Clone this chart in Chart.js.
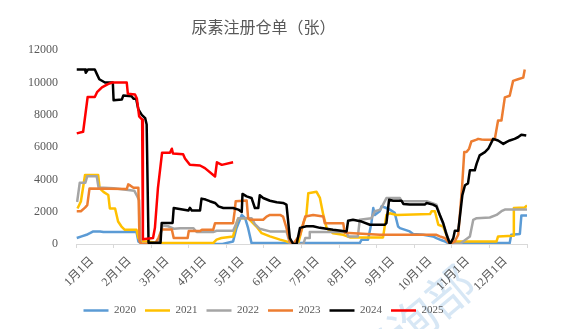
<!DOCTYPE html>
<html>
<head>
<meta charset="utf-8">
<script src="https://cdn.jsdelivr.net/npm/chart.js@4"></script>
<style>
  html, body { margin: 0; padding: 0; background: #fff; }
  #wrap { width: 563px; height: 329px; }
</style>
</head>
<body>
<div id="wrap"><canvas id="warrantChart"></canvas></div>
<script>
// x positions are in months since 1 Jan (0 = 1月1日, 12 = year end)
const monthLabels = ['1月1日', '2月1日', '3月1日', '4月1日', '5月1日', '6月1日',
    '7月1日', '8月1日', '9月1日', '10月1日', '11月1日', '12月1日'];
const yTicks = [0, 2000, 4000, 6000, 8000, 10000, 12000];
const years = ['2020', '2021', '2022', '2023', '2024', '2025'];
const colors = ['#5B9BD5', '#FFC000', '#A5A5A5', '#ED7D31', '#000000', '#FF0000'];

const x2020 = [0.02, 0.15, 0.28, 0.37, 0.46, 0.64, 0.73, 1.61, 1.66, 1.75, 3.9, 4.18, 4.27, 4.41, 4.5, 4.58, 4.67, 7.55, 7.6, 7.77, 7.86, 7.91, 7.95, 8.08, 8.13, 8.22, 8.35, 8.48, 8.57, 8.62, 8.88, 8.97, 9.24, 9.5, 9.59, 9.73, 9.81, 9.95, 10.08, 11.54, 11.58, 11.81, 11.85, 12.0];
const v2020 = [370, 470, 570, 670, 780, 780, 740, 740, 160, 0, 0, 160, 980, 1800, 1600, 980, 60, 60, 270, 270, 1290, 2230, 1800, 2030, 2330, 2260, 2130, 1930, 1080, 980, 780, 620, 570, 470, 370, 230, 160, 0, 60, 60, 570, 620, 1760, 1760];

const x2021 = [0.04, 0.13, 0.24, 0.59, 0.63, 0.73, 0.86, 0.9, 1.04, 1.12, 1.21, 1.3, 1.61, 1.66, 1.75, 1.9, 2.2, 3.65, 3.74, 3.87, 4.18, 4.27, 4.32, 4.58, 4.67, 4.8, 4.94, 5.16, 5.43, 5.6, 5.78, 5.91, 6.05, 6.13, 6.18, 6.4, 6.49, 6.58, 6.67, 6.84, 7.11, 7.29, 8.17, 8.26, 8.35, 8.53, 9.42, 9.46, 9.55, 9.64, 9.77, 9.95, 10.08, 11.19, 11.23, 11.63, 11.65, 11.94, 12.0];
const v2021 = [2200, 2630, 4270, 4270, 3440, 3230, 3030, 2200, 2200, 1390, 1080, 880, 880, 370, 160, 160, 60, 60, 270, 370, 470, 1290, 1600, 1600, 1390, 1080, 670, 470, 270, 160, 0, 0, 1290, 1800, 3140, 3230, 2850, 1800, 980, 670, 570, 410, 410, 1800, 1900, 1800, 1850, 2030, 2030, 1190, 1080, 0, 160, 160, 470, 510, 2230, 2260, 2380];

const x2022 = [0.03, 0.1, 0.25, 0.3, 0.55, 0.6, 1.0, 1.55, 1.62, 1.68, 1.72, 2.2, 2.3, 2.45, 2.6, 2.77, 3.12, 3.21, 3.65, 3.74, 4.18, 4.27, 4.32, 4.67, 4.76, 4.89, 5.16, 5.6, 5.69, 5.78, 6.05, 6.1, 6.2, 6.22, 7.2, 7.24, 7.5, 7.55, 7.86, 7.95, 8.1, 8.17, 8.26, 8.62, 8.66, 9.33, 9.59, 9.68, 9.81, 9.95, 10.22, 10.3, 10.48, 10.57, 10.66, 11.01, 11.19, 11.32, 11.41, 12.0];
const v2022 = [2600, 3800, 3800, 4200, 4200, 3500, 3450, 3300, 3000, 2700, 0, 0, 1150, 1100, 950, 980, 980, 740, 740, 820, 820, 1290, 1600, 1600, 1230, 940, 780, 780, 60, 0, 0, 370, 370, 740, 740, 470, 470, 1500, 1600, 2030, 2130, 2440, 2850, 2850, 2650, 2650, 2440, 1800, 980, 0, 0, 160, 470, 1500, 1600, 1640, 1800, 2030, 2130, 2130];

const x2023 = [0.02, 0.13, 0.24, 0.3, 0.36, 1.35, 1.39, 1.45, 1.53, 1.66, 1.69, 1.75, 2.1, 2.2, 2.28, 2.55, 2.6, 2.97, 3.0, 3.3, 3.35, 3.65, 3.7, 4.18, 4.22, 4.25, 4.54, 4.58, 4.63, 4.98, 5.07, 5.16, 5.43, 5.51, 5.6, 5.69, 5.78, 5.96, 6.05, 6.1, 6.31, 6.58, 6.62, 7.11, 7.15, 8.09, 9.59, 9.68, 9.81, 9.95, 10.08, 10.17, 10.27, 10.33, 10.39, 10.46, 10.52, 10.66, 10.7, 10.79, 10.88, 11.14, 11.23, 11.32, 11.41, 11.54, 11.63, 11.76, 11.9, 11.94];
const v2023 = [2030, 2030, 2250, 2410, 3440, 3400, 3690, 3610, 3480, 3480, 160, 0, 0, 400, 900, 900, 370, 370, 800, 800, 880, 880, 1290, 1290, 2000, 2650, 2700, 1600, 1500, 1500, 1700, 1800, 1800, 1700, 1000, 160, 0, 570, 1300, 1700, 1800, 1700, 1290, 1290, 700, 570, 570, 470, 370, 0, 160, 570, 3440, 5690, 5690, 5900, 6350, 6460, 6510, 6470, 6460, 6460, 7650, 7650, 9080, 9180, 10100, 10200, 10300, 10800];

const x2024 = [0.02, 0.24, 0.26, 0.32, 0.5, 0.55, 0.62, 0.77, 0.98, 1.0, 1.22, 1.26, 1.48, 1.53, 1.6, 1.66, 1.75, 1.84, 1.88, 1.93, 2.25, 2.28, 2.57, 2.6, 2.99, 3.03, 3.08, 3.3, 3.34, 3.45, 3.56, 3.7, 3.79, 3.92, 4.18, 4.32, 4.41, 4.43, 4.54, 4.67, 4.76, 4.85, 4.89, 4.98, 5.16, 5.34, 5.51, 5.6, 5.69, 5.78, 5.87, 5.96, 6.13, 6.31, 6.49, 6.84, 7.2, 7.24, 7.37, 7.6, 7.82, 8.22, 8.26, 8.33, 8.44, 8.66, 8.71, 8.88, 9.28, 9.33, 9.5, 9.59, 9.68, 9.77, 9.86, 9.95, 10.04, 10.08, 10.17, 10.22, 10.28, 10.35, 10.43, 10.48, 10.61, 10.66, 10.74, 10.88, 10.97, 11.1, 11.23, 11.37, 11.45, 11.54, 11.67, 11.76, 11.85, 11.98];
const v2024 = [10800, 10800, 10600, 10800, 10800, 10550, 10200, 10000, 10000, 8900, 8950, 9200, 9150, 9000, 9000, 8330, 8000, 7800, 7400, 80, 80, 1300, 1300, 2230, 2070, 2240, 2070, 2070, 2810, 2750, 2650, 2540, 2330, 2230, 2230, 2130, 1980, 3100, 2950, 2850, 2230, 2230, 3020, 2850, 2680, 2580, 2540, 2440, 370, 0, 0, 1000, 1100, 1100, 1000, 880, 780, 1440, 1500, 1390, 1190, 1190, 1300, 2740, 2680, 2680, 2480, 2440, 2440, 2540, 2440, 2330, 1800, 1300, 570, 0, 370, 820, 820, 1800, 3030, 3640, 3750, 4560, 4560, 4980, 5490, 5690, 5900, 6510, 6410, 6200, 6310, 6410, 6510, 6610, 6770, 6720];

const x2025 = [0.02, 0.19, 0.31, 0.5, 0.56, 0.69, 0.85, 0.96, 1.35, 1.38, 1.57, 1.62, 1.68, 1.76, 1.78, 2.05, 2.1, 2.18, 2.29, 2.5, 2.55, 2.58, 2.85, 2.9, 3.03, 3.3, 3.43, 3.7, 3.75, 3.88, 4.18];
const v2025 = [6850, 6950, 9100, 9100, 9400, 9700, 9900, 10000, 10000, 9300, 9250, 9000, 7900, 7700, 300, 370, 1000, 3460, 5650, 5650, 5900, 5600, 5560, 5300, 4900, 4860, 4700, 4180, 5060, 4900, 5060];

const seriesX = [x2020, x2021, x2022, x2023, x2024, x2025];
const seriesV = [v2020, v2021, v2022, v2023, v2024, v2025];

const textColor = '#595959';
const serif = "'Liberation Serif', 'Noto Sans CJK SC', serif";

// faint department stamp behind the plot
const stampPlugin = {
    id: 'stamp',
    beforeDraw(chart) {
        const c = chart.ctx;
        c.save();
        c.translate(413, 322);
        c.rotate(-40 * Math.PI / 180);
        c.font = "48px 'Noto Sans CJK SC'";
        c.fillStyle = 'rgba(155, 194, 230, 0.4)';
        c.textAlign = 'center';
        c.textBaseline = 'middle';
        c.fillText('咨询部', 0, 0);
        c.restore();
    }
};

const datasets = years.map((yr, i) => ({
    label: yr,
    data: seriesX[i].map((x, j) => ({ x: x, y: seriesV[i][j] })),
    borderColor: colors[i],
    backgroundColor: colors[i],
    borderWidth: 2.5,
    pointRadius: 0,
    tension: 0,
    borderJoinStyle: 'round',
    order: years.length - i
}));

new Chart(document.getElementById('warrantChart').getContext('2d'), {
    type: 'line',
    data: { datasets: datasets },
    plugins: [stampPlugin],
    options: {
        responsive: true,
        maintainAspectRatio: false,
        animation: false,
        layout: { padding: { left: 0, right: 36, top: 0, bottom: 3 } },
        plugins: {
            title: {
                display: true,
                text: '尿素注册仓单（张）',
                color: textColor,
                font: { family: "'Noto Sans CJK SC'", size: 16, weight: 'normal' },
                padding: { top: 17, bottom: 14 }
            },
            legend: {
                position: 'bottom',
                labels: {
                    color: textColor,
                    font: { family: serif, size: 11 },
                    usePointStyle: true,
                    pointStyle: 'line',
                    pointStyleWidth: 25,
                    padding: 9,
                    sort: (a, b) => a.datasetIndex - b.datasetIndex
                }
            },
            tooltip: { enabled: false }
        },
        scales: {
            x: {
                type: 'linear',
                min: 0,
                max: 12,
                afterFit: scale => { scale.height = 52; },
                afterBuildTicks: scale => {
                    scale.ticks = monthLabels.map((_, i) => ({ value: i })).concat([{ value: 12 }]);
                },
                ticks: {
                    autoSkip: false,
                    minRotation: 45,
                    maxRotation: 45,
                    color: textColor,
                    font: { family: serif, size: 12 },
                    padding: 6,
                    labelOffset: 16,
                    callback: value => monthLabels[value] || ''
                },
                grid: { drawOnChartArea: false, drawTicks: true, tickLength: 4, color: '#D9D9D9' },
                border: { color: '#D9D9D9', width: 1 }
            },
            y: {
                min: 0,
                max: 12000,
                afterFit: scale => { scale.width = 76; },
                afterBuildTicks: scale => {
                    scale.ticks = yTicks.map(v => ({ value: v }));
                },
                ticks: {
                    color: textColor,
                    font: { family: serif, size: 12 },
                    padding: 10,
                    callback: value => String(value)
                },
                grid: { display: false },
                border: { display: false }
            }
        }
    }
});
</script>
</body>
</html>
